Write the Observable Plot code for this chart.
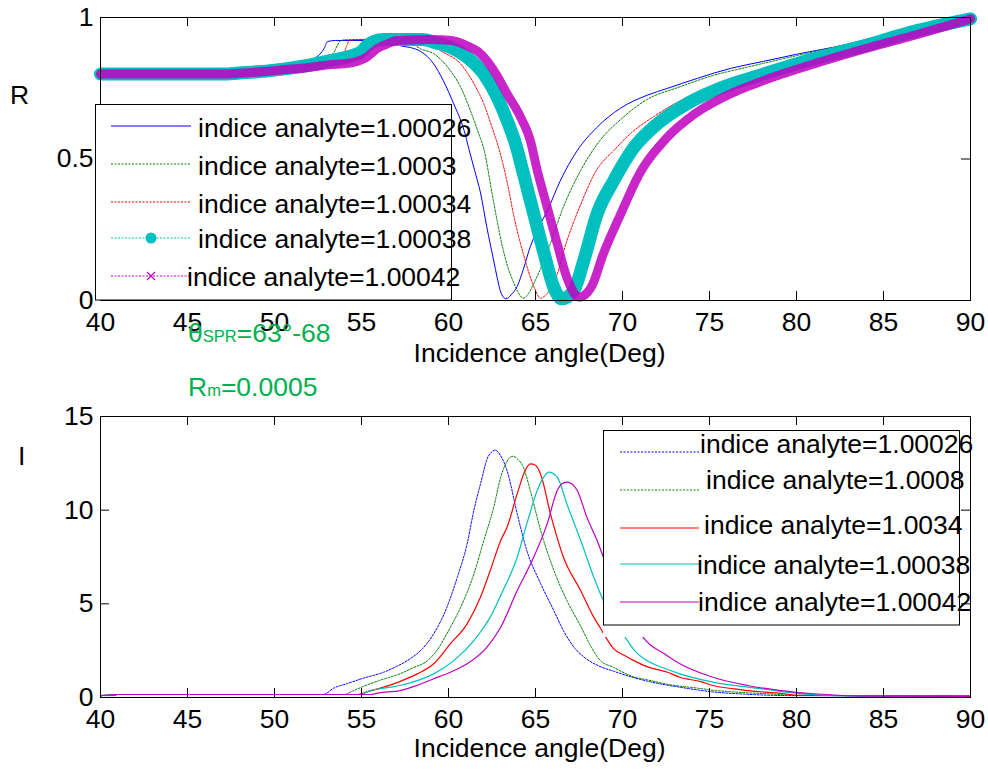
<!DOCTYPE html>
<html><head><meta charset="utf-8">
<script src="https://cdn.jsdelivr.net/npm/d3@7"></script>
<script src="https://cdn.jsdelivr.net/npm/@observablehq/plot@0.6"></script>
<style>
body{margin:0;background:#fff;}
#fig{position:relative;width:988px;height:769px;background:#fff;overflow:hidden;}
#fig > svg{position:absolute;left:0;}
</style></head><body><div id="fig"></div>
<script>
// ---------- data ----------
const xTicks = [40,45,50,55,60,65,70,75,80,85,90];
const yTicksR = [0,0.5,1];
const yTicksI = [0,5,10,15];
const xLabel = "Incidence angle(Deg)";
const legendR = ["indice analyte=1.00026","indice analyte=1.0003","indice analyte=1.00034","indice analyte=1.00038","indice analyte=1.00042"];
const legendI = ["indice analyte=1.00026","indice analyte=1.0008","indice analyte=1.0034","indice analyte=1.00038","indice analyte=1.00042"];
const annotTheta = ["θ","SPR","=63°-68"];
const annotRm = ["R","m","=0.0005"];

// Reflectivity R (angle, R)
const R_1_00026 = [[40,0.80],[44,0.80],[47,0.80],[48,0.805],[49,0.81],[50,0.818],[51,0.83],[51.5,0.84],[52.25,0.854],[52.6,0.87],[52.85,0.89],[53.05,0.915],[53.5,0.919],[56,0.918],[56.8,0.91],[57.24,0.90],[57.8,0.894],[58.4,0.88],[59.15,0.836],[59.7,0.777],[60.3,0.695],[60.9,0.60],[61.17,0.536],[61.5,0.46],[61.84,0.38],[62.2,0.26],[62.6,0.14],[62.8,0.08],[63.0,0.03],[63.3,0.006],[63.6,0.02],[63.95,0.05],[64.3,0.11],[64.7,0.19],[65.2,0.26],[65.7,0.32],[66.4,0.42],[67.4,0.53],[68.5,0.61],[69.9,0.68],[71.4,0.725],[72.6,0.75],[74.3,0.785],[76.2,0.82],[78.1,0.845],[80,0.87],[82.9,0.905],[84.8,0.935],[87.7,0.965],[90,0.995]];
const R_1_0003 = [[40,0.80],[47,0.80],[48,0.805],[49,0.81],[50,0.818],[51,0.828],[52,0.84],[53,0.86],[53.4,0.875],[53.6,0.90],[53.8,0.918],[54.2,0.922],[57.5,0.922],[58.4,0.889],[59.15,0.872],[60.1,0.813],[60.7,0.754],[61.26,0.671],[61.74,0.589],[62.03,0.536],[62.5,0.38],[62.8,0.28],[63.1,0.19],[63.4,0.12],[63.7,0.07],[63.95,0.035],[64.3,0.008],[64.6,0.025],[64.9,0.06],[65.67,0.17],[66.6,0.33],[67.6,0.46],[68.7,0.565],[69.9,0.64],[71.4,0.71],[73.3,0.755],[75.2,0.795],[77.2,0.825],[80,0.865],[82.9,0.905],[85,0.93],[87.7,0.962],[90,0.995]];
const R_1_00034 = [[40,0.80],[47,0.80],[48,0.805],[49,0.81],[50,0.816],[51,0.826],[52,0.838],[53,0.852],[53.7,0.865],[54.0,0.875],[54.15,0.90],[54.3,0.918],[54.7,0.922],[58,0.924],[59,0.9],[59.7,0.877],[60.7,0.836],[61.46,0.766],[62.03,0.695],[62.5,0.612],[62.9,0.536],[63.4,0.41],[63.75,0.30],[64.3,0.165],[64.9,0.05],[65.29,0.008],[65.6,0.02],[66.05,0.06],[66.8,0.21],[67.6,0.34],[68.5,0.46],[69.5,0.53],[70.46,0.59],[71.8,0.65],[73.3,0.705],[75.2,0.755],[77.2,0.79],[80,0.84],[82.9,0.893],[85.5,0.935],[88,0.965],[90,0.995]];
const R_1_00038 = [[40,0.80],[47,0.80],[48,0.804],[49,0.808],[50,0.814],[51,0.822],[52,0.832],[53,0.845],[54,0.858],[54.6,0.868],[55.0,0.88],[55.3,0.90],[55.7,0.915],[56.3,0.922],[58.5,0.922],[59.3,0.91],[60.1,0.895],[61.07,0.86],[62.03,0.80],[62.8,0.718],[63.37,0.636],[63.85,0.554],[64.3,0.45],[64.9,0.306],[65.5,0.165],[66.05,0.047],[66.5,0.006],[67.2,0.035],[67.77,0.14],[68.54,0.306],[69.5,0.424],[70.65,0.54],[72.0,0.624],[73.7,0.695],[75.6,0.75],[78.1,0.80],[81.0,0.854],[83.9,0.90],[86.7,0.95],[90,0.995]];
const R_1_00042 = [[40,0.80],[47,0.80],[48,0.803],[49,0.807],[50,0.812],[51,0.818],[51.5,0.82],[53,0.832],[54.4,0.84],[55.3,0.86],[55.9,0.89],[56.5,0.907],[57,0.918],[59.0,0.922],[60.1,0.919],[61.07,0.90],[61.84,0.872],[62.6,0.813],[63.37,0.73],[64.14,0.648],[64.7,0.565],[65.1,0.46],[65.67,0.33],[66.25,0.20],[66.8,0.082],[67.5,0.012],[68.2,0.047],[68.9,0.165],[69.9,0.306],[71.0,0.45],[72.4,0.565],[73.9,0.648],[75.8,0.718],[78.1,0.777],[81.0,0.836],[83.9,0.889],[86.7,0.936],[90,0.995]];

// Intensity I (angle, I)
const I_1_00026 = [[40,0.1],[40.8,0.1],[41,0.16],[52.8,0.16],[53.4,0.5],[54.2,0.75],[55.0,1.0],[56.27,1.35],[57.0,1.65],[57.8,2.07],[58.5,2.6],[59.15,3.4],[59.9,4.8],[60.5,6.4],[61.07,8.2],[61.46,10.0],[61.84,11.4],[62.3,12.9],[62.7,13.2],[63.0,12.9],[63.37,12.1],[63.95,9.8],[64.5,7.85],[65.3,6.07],[66.05,4.64],[66.6,3.58],[67.2,2.7],[67.8,2.15],[68.6,1.7],[69.5,1.4],[70.5,1.1],[71.4,0.88],[73.3,0.55],[75.2,0.3],[77.0,0.18],[78.5,0.12],[80,0.1],[90,0.08]];
const I_1_0008 = [[40,0.1],[41,0.16],[54.0,0.16],[54.5,0.35],[55.0,0.55],[56.0,0.9],[57.2,1.26],[58.0,1.6],[58.8,1.97],[59.4,2.6],[59.9,3.4],[60.7,4.82],[61.46,6.6],[62.03,8.38],[62.6,10.16],[63.0,11.76],[63.3,12.5],[63.7,12.88],[64.0,12.7],[64.3,12.3],[64.7,11.05],[65.3,8.9],[66.05,6.8],[66.8,5.18],[67.6,3.8],[68.2,2.7],[68.7,2.0],[69.5,1.6],[70.65,1.1],[71.4,0.95],[72.6,0.7],[74.3,0.5],[75.4,0.37],[77.2,0.25],[78.3,0.2],[80,0.12],[90,0.08]];
const I_1_0034 = [[40,0.1],[41,0.16],[54.8,0.16],[55.3,0.3],[56.27,0.55],[57.2,0.85],[58.2,1.26],[59.15,1.8],[60.1,2.86],[61.07,3.93],[61.84,5.36],[62.4,6.78],[63.0,8.38],[63.37,9.1],[63.95,10.88],[64.4,12.1],[64.7,12.47],[65.0,12.4],[65.3,11.9],[65.86,9.8],[66.6,7.5],[67.6,5.7],[68.35,4.29],[68.7,3.75],[69.5,2.6],[70.2,2.2],[70.65,1.97],[71.4,1.65],[72.6,1.35],[73.3,1.08],[74.5,0.85],[75.2,0.64],[76.4,0.46],[77.2,0.37],[79.3,0.2],[80,0.12],[90,0.08]];
const I_1_00038 = [[40,0.1],[41,0.16],[55.0,0.16],[55.3,0.3],[56.3,0.5],[57.2,0.64],[58.2,0.9],[59.15,1.26],[60.3,1.97],[61.46,3.04],[62.03,3.75],[62.4,4.29],[63.0,5.45],[63.95,7.5],[64.5,9.27],[65.1,11.05],[65.5,11.8],[65.76,12.03],[66.25,11.76],[66.8,10.34],[67.6,8.38],[68.35,6.42],[68.9,5.18],[69.5,4.2],[70.17,3.2],[70.7,2.5],[71.4,1.97],[72.3,1.6],[73.3,1.26],[75.2,0.82],[77.2,0.55],[78.5,0.4],[80,0.23],[81.5,0.12],[82.9,0.08],[90,0.06]];
const I_1_00042 = [[40,0.1],[41,0.16],[55.5,0.16],[56.0,0.25],[57.2,0.37],[58.2,0.65],[59.15,1.0],[60.1,1.35],[61.07,1.8],[62.2,2.68],[63.0,3.75],[63.95,5.71],[64.9,7.5],[65.67,9.27],[66.25,11.05],[66.5,11.4],[66.8,11.5],[67.1,11.4],[67.4,11.05],[67.95,9.63],[68.54,8.38],[68.9,7.5],[69.6,6.0],[70.3,4.5],[70.8,3.8],[71.2,3.2],[72.4,2.33],[73.3,1.8],[75.2,1.08],[77.2,0.64],[79.1,0.37],[81.0,0.2],[82.0,0.14],[83.9,0.07],[90,0.06]];

// ---------- styles ----------
const FONT = "Liberation Sans, Arial, Helvetica, sans-serif";
const FS = 26.5;
const colors = ["#0000ff","#008000","#ff0000","#00bfbf","#bf00bf"];
const DOT = "2,1.5";
const W = 988;
const fig = document.getElementById("fig");

function frameTicks(H, Wf, yt) {
  const inner = xTicks.slice(1, -1);
  return [
    Plot.tickX(inner, {x: d => d, insetTop: H - 9, stroke: "black"}),
    Plot.tickX(inner, {x: d => d, insetBottom: H - 9, stroke: "black"}),
    Plot.tickY(yt, {y: d => d, insetRight: Wf - 9, stroke: "black"}),
    Plot.tickY(yt, {y: d => d, insetLeft: Wf - 9, stroke: "black"})
  ];
}

// ---------- top plot (R) ----------
const topH = 385, topMT = 17, topMB = 85, ML = 100, MR = 18;
const acc = {x: d => d[0], y: d => d[1]};
const topPlot = Plot.plot({
  width: W, height: topH, marginLeft: ML, marginRight: MR, marginTop: topMT, marginBottom: topMB,
  x: {domain: [40, 90]}, y: {domain: [0, 1]},
  style: {fontFamily: FONT, fontSize: FS + "px", background: "transparent", color: "black", overflow: "visible"},
  marks: [
    Plot.line(R_1_00026, {...acc, stroke: colors[0], strokeWidth: 1, curve: "monotone-x"}),
    Plot.line(R_1_0003, {...acc, stroke: colors[1], strokeWidth: 1, strokeDasharray: DOT, curve: "monotone-x"}),
    Plot.line(R_1_00034, {...acc, stroke: colors[2], strokeWidth: 1, strokeDasharray: DOT, curve: "monotone-x"}),
    Plot.line(R_1_00038, {...acc, stroke: colors[3], strokeWidth: 13, strokeLinecap: "round", strokeLinejoin: "round", curve: "monotone-x"}),
    Plot.line(R_1_00042, {...acc, stroke: colors[4], strokeWidth: 9, strokeDasharray: "1.6,1.1", strokeOpacity: 0.85, curve: "monotone-x"}),
    Plot.frame({stroke: "black"}),
    ...frameTicks(topH - topMT - topMB, W - ML - MR, [0.5]),
    Plot.axisX(xTicks, {tickSize: 0, tickPadding: 12, fontSize: FS, label: null}),
    Plot.axisY(yTicksR, {tickSize: 0, tickPadding: 7, fontSize: FS, label: null, tickFormat: d => String(d)}),
    Plot.text([xLabel], {text: d => d, frameAnchor: "bottom", dy: 61, dx: 4, fontSize: FS})
  ]
});
topPlot.style.top = "0px";
fig.appendChild(topPlot);

// ---------- bottom plot (I) ----------
const botTop = 385, botH = 384, botMT = 31, botMB = 72;
const botPlot = Plot.plot({
  width: W, height: botH, marginLeft: ML, marginRight: MR, marginTop: botMT, marginBottom: botMB,
  x: {domain: [40, 90]}, y: {domain: [0, 15]},
  style: {fontFamily: FONT, fontSize: FS + "px", background: "transparent", color: "black", overflow: "visible"},
  marks: [
    Plot.line(I_1_00026, {...acc, stroke: colors[0], strokeWidth: 1, strokeDasharray: DOT, curve: "monotone-x"}),
    Plot.line(I_1_0008, {...acc, stroke: colors[1], strokeWidth: 1, strokeDasharray: DOT, curve: "monotone-x"}),
    Plot.line(I_1_0034, {...acc, stroke: colors[2], strokeWidth: 1.2, curve: "monotone-x"}),
    Plot.line(I_1_00038, {...acc, stroke: colors[3], strokeWidth: 1.2, curve: "monotone-x"}),
    Plot.line(I_1_00042, {...acc, stroke: colors[4], strokeWidth: 1.2, curve: "monotone-x"}),
    Plot.frame({stroke: "black"}),
    ...frameTicks(botH - botMT - botMB, W - ML - MR, [5, 10]),
    Plot.axisX(xTicks, {tickSize: 0, tickPadding: 12, fontSize: FS, label: null}),
    Plot.axisY(yTicksI, {tickSize: 0, tickPadding: 7, fontSize: FS, label: null, tickFormat: d => String(d)}),
    Plot.text([xLabel], {text: d => d, frameAnchor: "bottom", dy: 59, dx: 4, fontSize: FS})
  ]
});
botPlot.style.top = botTop + "px";
fig.appendChild(botPlot);

// ---------- overlay: y labels, annotations, legends ----------
const ov = d3.create("svg").attr("width", W).attr("height", 769)
  .style("top", "0px").style("font-family", FONT).style("font-size", FS + "px");
ov.append("text").attr("x", 10).attr("y", 104).text("R");
ov.append("text").attr("x", 18).attr("y", 465).text("I");

const green = "#00b050";
function annot(parts, x, y) {
  const t = ov.append("text").attr("x", x).attr("y", y).attr("fill", green);
  t.append("tspan").text(parts[0]);
  t.append("tspan").attr("font-size", 16.5).text(parts[1]);
  t.append("tspan").text(parts[2]);
}
annot(annotTheta, 188, 342);
annot(annotRm, 188, 396);

function swatch(g, x1, x2, y, color, dash, marker) {
  g.append("line").attr("x1", x1).attr("x2", x2).attr("y1", y).attr("y2", y)
    .attr("stroke", color).attr("stroke-width", 1).attr("stroke-dasharray", dash || null);
  const mx = (x1 + x2) / 2;
  if (marker === "o") g.append("circle").attr("cx", mx).attr("cy", y).attr("r", 5.5).attr("fill", color);
  if (marker === "x") g.append("path").attr("d", `M${mx-4},${y-4}L${mx+4},${y+4}M${mx-4},${y+4}L${mx+4},${y-4}`)
    .attr("stroke", color).attr("stroke-width", 1.2);
}

// top legend
const gT = ov.append("g");
gT.append("rect").attr("x", 95.5).attr("y", 104.5).attr("width", 356).attr("height", 195.5)
  .attr("fill", "white").attr("stroke", "black");
const tLineY = [126, 164, 202, 238, 276];
const tTextX = [198, 198, 198, 198, 187];
const tTextY = [137, 175, 213, 248, 286];
const tDash = [null, DOT, DOT, DOT, DOT];
const tMark = [null, null, null, "o", "x"];
legendR.forEach((s, i) => {
  swatch(gT, 111, 191, tLineY[i], colors[i], tDash[i], tMark[i]);
  gT.append("text").attr("x", tTextX[i]).attr("y", tTextY[i]).text(s);
});

// bottom legend
const gB = ov.append("g");
gB.append("rect").attr("x", 603).attr("y", 430).attr("width", 357).attr("height", 207).attr("fill", "white");
gB.append("rect").attr("x", 603.5).attr("y", 430.5).attr("width", 356).attr("height", 194.5)
  .attr("fill", "white").attr("stroke", "black");
const bLineY = [452, 490, 528, 564, 602];
const bTextX = [700, 706, 704, 697, 698];
const bTextY = [452.5, 488.5, 533.5, 573.5, 610.5];
const bDash = [DOT, DOT, null, null, null];
legendI.forEach((s, i) => {
  swatch(gB, 620, 699, bLineY[i], colors[i], bDash[i], null);
  gB.append("text").attr("x", bTextX[i]).attr("y", bTextY[i]).text(s);
});
fig.appendChild(ov.node());
</script>
</body></html>
